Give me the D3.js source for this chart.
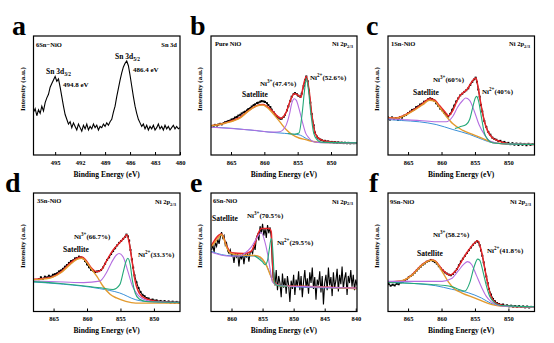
<!DOCTYPE html>
<html>
<head>
<meta charset="utf-8">
<script src="https://cdn.jsdelivr.net/npm/d3@7"></script>
<style>
  body { margin: 0; background: #fff; }
  text { font-family: "Liberation Serif", "Times New Roman", serif; font-weight: bold; fill: #000; }
</style>
</head>
<body>
<div id="fig"></div>
<script>
// tick labels
var aTicks = [495, 492, 489, 486, 483, 480];
var niTicks = [865, 860, 855, 850];
var eTicks = [860, 855, 850, 845, 840];

// a: Sn 3d of 6Sn-NiO  [binding energy, intensity %]
var aData = [[497.6,36],[497.4,39],[497.2,33],[497.0,38],[496.8,35],[496.6,41],[496.4,37],[496.2,44],[496.0,48],[495.8,51],
  [495.6,57],[495.4,60],[495.2,63],[495.0,66],[494.8,62],[494.6,64],[494.4,57],[494.2,49],[494.0,41],[493.8,34],
  [493.6,30],[493.4,26],[493.2,28],[493.0,23],[492.8,27],[492.6,24],[492.4,21],[492.2,26],[492.0,23],[491.8,20],
  [491.6,25],[491.4,22],[491.2,26],[491.0,21],[490.8,24],[490.6,22],[490.4,26],[490.2,23],[490.0,25],[489.8,21],
  [489.6,24],[489.4,23],[489.2,26],[489.0,24],[488.8,27],[488.6,25],[488.4,28],[488.2,30],[488.0,36],[487.8,41],
  [487.6,49],[487.4,56],[487.2,63],[487.0,69],[486.8,74],[486.6,77],[486.4,79],[486.2,75],[486.0,67],[485.8,58],
  [485.6,49],[485.4,41],[485.2,35],[485.0,30],[484.8,27],[484.6,24],[484.4,26],[484.2,22],[484.0,25],[483.8,21],
  [483.6,24],[483.4,22],[483.2,25],[483.0,21],[482.8,23],[482.6,26],[482.4,22],[482.2,24],[482.0,21],[481.8,25],
  [481.6,22],[481.4,24],[481.2,21],[481.0,23],[480.8,25],[480.6,22],[480.4,24],[480.2,22],[480.0,23]];

// b: pure NiO
var bData = [[867.6,24.5],[867.4,25.3],[867.1,24.8],[866.9,25.6],[866.6,26.2],[866.4,25.7],[866.1,26.8],[865.9,27.5],[865.6,27.9],[865.4,28.6],
  [865.1,29.0],[864.9,29.9],[864.6,30.4],[864.4,31.5],[864.1,32.0],[863.9,33.1],[863.6,33.8],[863.4,34.9],[863.1,35.8],[862.9,36.4],
  [862.6,37.5],[862.4,38.6],[862.1,39.4],[861.9,40.7],[861.6,41.9],[861.4,42.5],[861.1,43.6],[860.9,44.0],[860.6,44.8],[860.4,45.3],
  [860.1,45.0],[859.9,44.6],[859.6,43.5],[859.4,42.0],[859.1,40.3],[858.9,38.1],[858.6,35.9],[858.4,34.0],[858.1,32.3],[857.9,31.4],
  [857.6,30.5],[857.4,30.6],[857.1,32.0],[856.9,33.8],[856.6,37.5],[856.4,41.0],[856.1,45.5],[855.9,49.0],[855.6,51.3],[855.4,52.0],
  [855.1,51.0],[854.9,49.8],[854.6,48.9],[854.4,51.5],[854.1,58.0],[853.9,63.0],[853.7,66.0],[853.5,62.0],[853.3,54.0],[853.1,44.0],
  [852.9,34.5],[852.6,25.0],[852.4,18.8],[852.1,15.5],[851.9,14.0],[851.6,13.0],[851.4,12.6],[851.1,11.8],[850.9,11.9],[850.6,11.2],
  [850.4,11.4],[850.1,10.8],[849.9,11.0],[849.6,10.5],[849.4,10.7],[849.1,10.3],[848.9,10.6],[848.6,10.1],[848.4,10.4],[848.1,10.0],
  [847.9,10.3],[847.6,9.9],[847.4,10.2],[847.1,9.8],[846.9,10.1],[846.6,9.9],[846.3,10.0]];
var bEnv = [[868.0,24.6],[866.6,25.9],[865.6,27.4],[864.6,29.2],[863.6,31.8],[862.6,36.3],[861.7,39.8],[860.7,42.2],[860.2,42.5],[859.7,41.3],
  [858.7,36.5],[858.0,32.5],[857.5,30.8],[856.7,36.3],[856.0,47.3],[855.5,51.4],[855.0,50.5],[854.5,48.6],[854.2,56.9],[853.7,65.9],
  [853.3,54.9],[852.9,34.9],[852.4,18.4],[851.8,13.7],[850.8,11.5],[849.0,10.5],[846.1,10.2]];
var bBg = [[868.0,23.5],[865.0,22.5],[862.0,20.9],[859.0,19.1],[857.0,18.2],[855.5,17.4],[854.8,17.0],[854.3,15.8],[853.7,13.8],[853.0,12.0],
  [852.3,10.8],[851.5,10.4],[846.1,10.2]];
var bSat = [[868.0,24.6],[866.6,25.8],[865.6,27.2],[864.6,28.8],[863.6,31.2],[862.6,36.0],[861.7,39.6],[860.7,41.8],[860.2,41.9],[859.7,40.4],
  [858.7,34.9],[857.7,28.0],[856.7,21.2],[855.8,17.0],[854.8,14.3],[853.8,12.9],[852.8,11.5],[851.8,10.6],[846.1,10.2]];
var bNi3 = [[868.0,23.3],[862.0,21.0],[858.5,19.2],[857.7,19.6],[857.2,21.2],[856.7,25.3],[856.2,34.9],[855.9,43.1],[855.5,47.3],[855.2,45.9],
  [854.8,39.0],[854.3,28.0],[853.8,18.4],[853.3,14.3],[852.8,11.5],[852.0,10.6],[846.1,10.2]];
var bNi2 = [[856.5,18.0],[855.5,17.4],[854.8,18.4],[854.3,36.3],[854.0,52.7],[853.7,64.3],[853.4,55.5],[853.05,36.3],[852.6,18.4],[852.1,12.9],
  [851.5,10.8],[846.1,10.2]];

// c: 1Sn-NiO
var cData = [[868.0,31.5],[867.7,29.8],[867.4,31.6],[867.1,30.2],[866.8,31.0],[866.5,29.5],[866.2,31.8],[865.9,31.4],[865.6,33.0],[865.3,33.6],
  [865.0,35.2],[864.7,36.4],[864.4,37.9],[864.1,38.3],[863.8,40.2],[863.5,40.8],[863.2,42.4],[862.9,43.1],[862.6,44.8],[862.3,45.4],
  [862.0,46.9],[861.7,47.6],[861.4,47.0],[861.1,45.8],[860.8,43.5],[860.5,41.4],[860.2,39.0],[859.9,37.6],[859.6,35.5],[859.3,34.0],
  [859.0,32.4],[858.7,34.5],[858.4,38.0],[858.1,41.5],[857.8,45.0],[857.5,47.6],[857.2,50.1],[856.9,51.5],[856.6,53.0],[856.3,54.4],
  [856.0,56.0],[855.7,58.9],[855.4,61.5],[855.1,63.6],[854.9,65.0],[854.7,61.5],[854.5,55.0],[854.3,49.0],[854.1,42.0],[853.9,36.5],
  [853.6,28.5],[853.3,23.5],[853.0,19.3],[852.7,17.1],[852.4,14.6],[852.1,13.5],[851.8,12.8],[851.5,11.6],[851.2,11.9],[850.9,10.5],
  [850.6,11.0],[850.3,9.7],[850.0,10.2],[849.7,9.1],[849.4,9.9],[849.1,8.7],[848.8,9.6],[848.5,8.4],[848.2,9.5],[847.9,8.6],
  [847.6,9.3],[847.3,8.2],[847.0,9.4],[846.7,8.5],[846.4,9.1]];
var cEnv = [[868.0,31.2],[866.8,31.0],[865.7,33.0],[864.3,37.4],[862.8,43.2],[861.8,47.2],[861.0,46.0],[860.3,41.5],[859.3,35.0],[859.0,32.8],
  [858.3,37.5],[857.8,44.0],[857.3,49.5],[856.8,52.1],[856.1,55.7],[855.6,60.4],[855.1,64.1],[854.85,64.8],[854.6,59.1],[854.1,42.3],
  [853.6,28.4],[853.1,20.1],[852.4,14.5],[851.4,11.7],[849.9,9.5],[846.1,8.9]];
var cBg = [[868.0,29.8],[866.0,29.0],[863.3,27.9],[860.8,25.6],[858.3,21.4],[855.8,17.3],[853.9,13.1],[852.4,10.3],[850.9,9.5],[846.1,8.9]];
var cSat = [[868.0,31.0],[866.8,31.0],[865.7,32.6],[864.3,36.8],[862.8,42.3],[861.8,46.0],[861.0,45.1],[860.3,40.1],[859.3,32.6],[858.3,26.2],
  [856.8,20.6],[855.35,17.3],[853.9,13.9],[852.4,10.6],[850.9,9.5],[846.1,8.9]];
var cNi3 = [[868.0,30.4],[866.0,29.8],[863.3,29.0],[860.8,27.9],[859.3,27.9],[858.3,32.6],[857.6,40.1],[856.8,46.0],[856.4,47.9],[855.8,46.0],
  [855.1,36.8],[854.4,25.6],[853.6,17.3],[852.9,12.3],[851.9,10.3],[850.9,9.5],[846.1,8.9]];
var cNi2 = [[858.0,22.3],[857.3,23.6],[856.3,25.6],[855.8,29.8],[855.35,39.6],[854.95,47.9],[854.75,49.3],[854.45,45.1],[854.1,34.0],[853.6,18.7],
  [853.1,13.1],[852.4,10.3],[850.9,9.5],[846.1,8.9]];

// d: 3Sn-NiO
var dData = [[867.2,27.3],[866.9,28.9],[866.6,27.6],[866.3,29.4],[866.0,28.7],[865.7,30.2],[865.4,29.4],[865.1,31.0],[864.8,31.5],[864.5,32.2],
  [864.2,33.8],[863.9,34.6],[863.6,36.0],[863.3,37.8],[863.0,39.2],[862.7,41.0],[862.4,42.5],[862.1,43.1],[861.8,44.8],[861.5,45.2],
  [861.2,46.3],[860.9,45.6],[860.6,45.0],[860.3,42.6],[860.0,39.8],[859.7,37.4],[859.4,35.2],[859.1,34.5],[858.8,33.3],[858.5,33.8],
  [858.2,34.1],[857.9,35.0],[857.6,37.2],[857.3,40.3],[857.0,43.5],[856.7,45.7],[856.4,48.5],[856.1,51.0],[855.8,53.4],[855.5,55.8],
  [855.2,57.9],[854.9,59.5],[854.6,61.3],[854.3,63.0],[854.1,64.9],[853.9,63.5],[853.7,59.8],[853.5,52.0],[853.3,44.0],[853.1,37.0],
  [852.9,30.5],[852.6,24.6],[852.3,19.8],[852.0,16.5],[851.7,14.1],[851.4,12.9],[851.1,11.4],[850.8,11.0],[850.5,9.8],[850.2,10.1],
  [849.9,9.2],[849.6,9.4],[849.3,8.4],[849.0,8.9],[848.7,8.2],[848.4,8.8],[848.1,7.9],[847.8,8.5],[847.5,7.6],[847.2,8.3],
  [846.9,7.5],[846.6,8.1],[846.3,7.4]];
var dEnv = [[868.0,27.2],[865.4,28.8],[863.9,33.5],[862.5,40.8],[861.5,45.0],[860.75,46.0],[860.0,42.0],[859.3,36.5],[858.55,33.5],[857.8,35.5],
  [857.1,42.6],[856.1,51.9],[855.1,58.2],[854.4,62.5],[854.06,64.8],[853.7,58.2],[853.3,44.0],[852.8,25.6],[852.2,15.6],[851.2,10.8],
  [849.3,8.5],[846.1,7.5]];
var dBg = [[868.0,24.9],[863.5,23.0],[858.1,19.3],[855.1,15.6],[852.7,9.9],[850.25,8.0],[846.1,7.4]];
var dSat = [[868.0,26.8],[866.3,27.5],[865.4,28.4],[863.9,32.7],[862.5,39.8],[861.5,44.0],[860.75,44.9],[860.0,41.2],[859.3,35.5],[858.55,29.8],
  [857.6,21.3],[856.6,14.8],[855.6,11.4],[854.2,8.5],[852.7,7.1],[846.1,7.1]];
var dNi3 = [[868.0,25.8],[863.5,24.9],[860.5,24.4],[858.1,25.6],[857.1,32.7],[856.35,41.2],[855.6,47.7],[855.2,48.9],[854.6,46.0],[853.9,34.1],
  [853.2,21.3],[852.45,14.2],[851.7,10.8],[850.25,8.5],[846.1,7.7]];
var dNi2 = [[868.0,25.2],[864.0,23.6],[861.0,22.0],[858.0,20.0],[856.1,18.6],[855.1,22.7],[854.55,34.1],[854.15,42.6],[853.9,44.9],[853.55,39.8],
  [853.2,25.6],[852.8,15.6],[852.2,10.5],[851.2,8.5],[846.1,7.8]];

// e: 6Sn-NiO
var eData = [[863.2,52],[863.0,56],[862.8,50],[862.6,58],[862.4,55],[862.2,61],[862.0,57],[861.8,63],[861.6,67],[861.4,62],
  [861.2,64],[861.0,56],[860.8,58],[860.6,51],[860.4,49],[860.2,52],[860.0,47],[859.8,48],[859.6,41],[859.4,49],
  [859.2,46],[859.0,49],[858.8,38],[858.6,48],[858.4,44],[858.2,49],[858.0,40],[857.8,48],[857.6,46],[857.4,49],
  [857.2,42],[857.0,50],[856.8,51],[856.6,49],[856.4,56],[856.2,52],[856.0,62],[855.8,65],[855.6,60],[855.4,72],
  [855.2,66],[855.0,74],[854.8,64],[854.6,70],[854.4,62],[854.2,73],[854.0,66],[853.8,71],[853.6,63],[853.5,50],
  [853.4,38],[853.3,28],[853.2,33],[853.0,22],[852.8,35],[852.6,18],[852.4,30],[852.2,24],[852.0,12],[851.8,32],
  [851.6,20],[851.4,28],[851.2,15],[851.0,30],[850.8,22],[850.6,8],[850.4,26],[850.2,19],[850.0,31],[849.8,14],
  [849.6,27],[849.4,21],[849.2,34],[849.0,18],[848.8,30],[848.6,12],[848.4,25],[848.2,35],[848.0,20],[847.8,28],
  [847.6,15],[847.4,33],[847.2,24],[847.0,37],[846.8,19],[846.6,29],[846.4,10],[846.2,27],[846.0,22],[845.8,34],
  [845.6,16],[845.4,30],[845.2,6],[845.0,24],[844.8,31],[844.6,18],[844.4,37],[844.2,22],[844.0,29],[843.8,13],
  [843.6,33],[843.4,20],[843.2,26],[843.0,36],[842.8,17],[842.6,31],[842.4,23],[842.2,38],[842.0,19],[841.8,28],
  [841.6,33],[841.4,14],[841.2,30],[841.0,24],[840.8,35],[840.6,21],[840.4,31],[840.2,18],[840.0,27],[839.8,22]];
var eEnv = [[863.3,55.0],[861.6,65.5],[860.8,55.5],[860.0,49.5],[858.0,48.9],[856.8,51.0],[856.2,58.0],[855.8,64.4],[855.2,70.0],[854.4,70.0],
  [853.9,70.0],[853.6,67.2],[853.4,41.8],[853.1,24.9],[852.6,22.5],[851.5,21.5],[848.0,21.2],[839.8,19.6]];
var eBg = [[863.3,50.8],[861.6,48.0],[860.0,47.0],[856.3,46.8],[855.5,45.5],[855.0,43.5],[854.4,39.5],[853.9,33.0],[853.4,26.3],[853.1,23.5],
  [852.6,22.0],[851.5,21.3],[839.8,19.4]];
var eSat = [[863.3,54.5],[862.8,57.5],[862.2,61.5],[861.6,65.0],[861.2,61.0],[860.8,54.5],[860.0,48.9],[858.5,47.5],[856.3,47.3],[855.8,46.9],
  [855.0,44.1],[854.4,39.0],[853.9,32.8],[853.4,26.3],[853.1,23.4],[852.6,22.0],[851.5,21.2],[848.3,21.2],[844.0,20.2],[839.8,19.2]];
var eNi3 = [[863.3,50.3],[861.6,47.5],[860.0,46.6],[858.5,47.0],[857.9,48.9],[856.8,54.5],[855.8,63.0],[855.2,66.7],[854.7,60.2],[854.2,48.9],
  [853.75,34.7],[853.4,24.9],[852.8,22.6],[851.5,21.5],[848.0,21.0],[839.8,19.6]];
var eNi2 = [[856.3,47.0],[855.0,41.8],[854.6,39.5],[854.2,43.2],[853.9,53.1],[853.6,61.6],[853.4,55.0],[853.2,36.2],[853.1,24.3],[852.6,22.0],
  [851.0,21.3]];

// f: 9Sn-NiO
var fData = [[868.0,24.0],[867.9,23.1],[867.6,21.8],[867.3,22.6],[867.0,22.0],[866.7,23.4],[866.4,23.0],[866.1,24.6],[865.8,25.1],[865.5,26.4],
  [865.2,27.3],[864.9,28.9],[864.6,30.0],[864.3,31.2],[864.0,32.8],[863.7,34.6],[863.4,36.4],[863.1,37.9],[862.8,39.5],[862.5,40.6],
  [862.2,42.0],[861.9,42.6],[861.6,43.5],[861.3,42.8],[861.0,41.7],[860.7,40.4],[860.4,38.2],[860.1,36.3],[859.8,34.7],[859.5,33.0],
  [859.2,32.0],[858.9,31.1],[858.6,30.6],[858.3,31.6],[858.0,33.5],[857.7,35.8],[857.4,39.0],[857.1,42.2],[856.8,44.6],[856.5,47.0],
  [856.2,49.4],[855.9,51.8],[855.6,54.0],[855.3,56.3],[855.0,58.0],[854.7,59.3],[854.5,58.6],[854.3,56.0],[854.1,51.5],[853.9,47.0],
  [853.7,41.5],[853.5,35.4],[853.3,29.5],[853.1,24.0],[852.9,19.0],[852.6,14.3],[852.3,10.6],[852.0,8.6],[851.7,7.1],[851.4,6.3],
  [851.1,5.6],[850.8,5.9],[850.5,4.8],[850.2,5.2],[849.9,4.4],[849.6,4.9],[849.3,4.1],[849.0,4.6],[848.7,3.9],[848.4,4.5],
  [848.1,3.8],[847.8,4.3],[847.5,3.5],[847.2,4.2],[846.9,3.4],[846.6,3.9]];
var fEnv = [[868.0,24.9],[865.8,26.0],[864.4,31.0],[862.9,39.5],[861.9,43.0],[861.4,43.5],[860.9,42.5],[859.9,35.5],[858.7,30.7],[857.97,33.7],
  [856.5,47.2],[855.1,57.6],[854.6,59.7],[854.0,50.1],[853.3,29.3],[852.6,12.8],[851.6,6.3],[850.1,4.5],[846.1,3.7]];
var fBg = [[868.0,24.8],[865.5,24.2],[863.4,23.3],[860.9,21.8],[858.5,18.8],[856.0,15.8],[854.0,11.3],[852.6,6.9],[851.1,4.8],[846.1,3.9]];
var fSat = [[868.0,24.8],[865.8,26.3],[864.4,30.7],[862.9,39.1],[861.9,42.7],[861.4,43.3],[860.9,42.1],[859.9,33.7],[858.95,24.8],[858.0,18.8],
  [857.0,15.8],[855.0,11.3],[853.05,6.9],[851.1,4.5],[846.1,3.9]];
var fNi3 = [[868.0,25.4],[865.0,25.4],[859.9,25.4],[858.5,27.8],[857.5,34.3],[856.7,39.7],[856.1,42.1],[855.5,39.7],[854.8,30.7],[854.0,20.3],
  [853.3,12.8],[852.6,8.4],[851.6,5.4],[850.0,4.2],[846.1,3.9]];
var fNi2 = [[868.0,24.5],[865.0,23.8],[861.5,22.8],[858.5,21.0],[857.5,18.8],[856.5,17.3],[855.75,24.8],[855.1,38.2],[854.6,44.2],[854.3,43.3],
  [853.8,33.7],[853.3,21.8],[852.8,12.8],[852.1,7.5],[851.1,5.1],[846.1,4.0]];

var RED = "#e8262a", PURPLE = "#b46ee0", GREEN = "#23a878", GOLD = "#e39a2e", BLUE = "#3a90d8";

var svg = d3.select("#fig").append("svg")
  .attr("width", 554).attr("height", 343);

var cols = [[33.5, 180], [211, 357], [388, 534.5]];
var rows = [[36, 155], [193, 311.5]];
var niDom = [868.0, 846.1];

function niCurves(env, bg, sat, ni3, ni2) {
  return [[env, RED, 1.5], [bg, BLUE, 1], [sat, GOLD, 1.4], [ni3, PURPLE, 1.1], [ni2, GREEN, 1.1]];
}

var panels = [
  {c: 0, r: 0, letter: "a", lx: 12, dom: [497.6, 480], ticks: aTicks, data: aData, dots: false, curves: [],
   texts: [
     {x: 36, y: 47, parts: [["6Sn−NiO"]], size: 6.5},
     {x: 177, y: 47, parts: [["Sn 3d"]], size: 6.5, anchor: "end"},
     {x: 46, y: 74, parts: [["Sn 3d"], ["3/2", "sub"]], size: 7.5},
     {x: 63, y: 87, parts: [["494.8 eV"]], size: 7},
     {x: 115, y: 59, parts: [["Sn 3d"], ["5/2", "sub"]], size: 7.5},
     {x: 133, y: 72, parts: [["486.4 eV"]], size: 7}
   ]},
  {c: 1, r: 0, letter: "b", lx: 190, dom: niDom, ticks: niTicks, data: bData, dots: true,
   curves: niCurves(bEnv, bBg, bSat, bNi3, bNi2),
   texts: [
     {x: 215, y: 46, parts: [["Pure NiO"]], size: 6.5},
     {x: 353, y: 46, parts: [["Ni 2p"], ["2/3", "sub"]], size: 6.5, anchor: "end"},
     {x: 242, y: 96.5, parts: [["Satellite"]], size: 7.5},
     {x: 260, y: 85.5, parts: [["Ni"], ["3+", "sup"], ["(47.4%)"]], size: 7},
     {x: 310, y: 79.5, parts: [["Ni"], ["2+", "sup"], ["(52.6%)"]], size: 7}
   ]},
  {c: 2, r: 0, letter: "c", lx: 366, dom: niDom, ticks: niTicks, data: cData, dots: true,
   curves: niCurves(cEnv, cBg, cSat, cNi3, cNi2),
   texts: [
     {x: 391, y: 46, parts: [["1Sn-NiO"]], size: 6.5},
     {x: 530, y: 46, parts: [["Ni 2p"], ["2/3", "sub"]], size: 6.5, anchor: "end"},
     {x: 413, y: 94.5, parts: [["Satellite"]], size: 7.5},
     {x: 433, y: 81.5, parts: [["Ni"], ["3+", "sup"], ["(60%)"]], size: 7},
     {x: 482, y: 93.5, parts: [["Ni"], ["2+", "sup"], ["(40%)"]], size: 7}
   ]},
  {c: 0, r: 1, letter: "d", lx: 5, dom: niDom, ticks: niTicks, data: dData, dots: true,
   curves: niCurves(dEnv, dBg, dSat, dNi3, dNi2),
   texts: [
     {x: 37, y: 203, parts: [["3Sn-NiO"]], size: 6.5},
     {x: 176, y: 204, parts: [["Ni 2p"], ["2/3", "sub"]], size: 6.5, anchor: "end"},
     {x: 63, y: 251.5, parts: [["Satellite"]], size: 7.5},
     {x: 74, y: 238.5, parts: [["Ni"], ["3+", "sup"], ["(66.7%)"]], size: 7},
     {x: 138, y: 256.5, parts: [["Ni"], ["2+", "sup"], ["(33.3%)"]], size: 7}
   ]},
  {c: 1, r: 1, letter: "e", lx: 190, dom: [863.3, 839.8], ticks: eTicks, data: eData, dots: false,
   curves: niCurves(eEnv, eBg, eSat, eNi3, eNi2),
   texts: [
     {x: 213, y: 203, parts: [["6Sn-NiO"]], size: 6.5},
     {x: 353, y: 203.5, parts: [["Ni 2p"], ["2/3", "sub"]], size: 6.5, anchor: "end"},
     {x: 212, y: 220.5, parts: [["Satellite"]], size: 7.5},
     {x: 247, y: 217.5, parts: [["Ni"], ["3+", "sup"], ["(70.5%)"]], size: 7},
     {x: 277, y: 244.5, parts: [["Ni"], ["2+", "sup"], ["(29.5%)"]], size: 7}
   ]},
  {c: 2, r: 1, letter: "f", lx: 369, dom: niDom, ticks: niTicks, data: fData, dots: true,
   curves: niCurves(fEnv, fBg, fSat, fNi3, fNi2),
   texts: [
     {x: 390, y: 204, parts: [["9Sn-NiO"]], size: 6.5},
     {x: 531, y: 204, parts: [["Ni 2p"], ["2/3", "sub"]], size: 6.5, anchor: "end"},
     {x: 417, y: 256, parts: [["Satellite"]], size: 7.5},
     {x: 433, y: 236.5, parts: [["Ni"], ["3+", "sup"], ["(58.2%)"]], size: 7},
     {x: 487, y: 253, parts: [["Ni"], ["2+", "sup"], ["(41.8%)"]], size: 7}
   ]}
];

// text with sub / superscripts
function richText(g, t) {
  var size = t.size;
  var el = g.append("text")
    .attr("x", t.x).attr("y", t.y)
    .attr("text-anchor", t.anchor || "start")
    .attr("font-size", size);
  var shift = 0;
  t.parts.forEach(function(p) {
    var s = p[1] === "sup" ? -0.38 * size : p[1] === "sub" ? 0.28 * size : 0;
    el.append("tspan")
      .attr("dy", s - shift)
      .attr("font-size", p[1] ? size * 0.72 : size)
      .text(p[0]);
    shift = s;
  });
}

panels.forEach(function(p, i) {
  var x0 = cols[p.c][0], x1 = cols[p.c][1];
  var y0 = rows[p.r][0], y1 = rows[p.r][1];

  var x = d3.scaleLinear().domain(p.dom).range([x0, x1]);
  var y = d3.scaleLinear().domain([0, 100]).range([y1, y0]);

  var g = svg.append("g");

  g.append("clipPath").attr("id", "clip" + i)
    .append("rect").attr("x", x0).attr("y", y0).attr("width", x1 - x0).attr("height", y1 - y0);

  var plot = g.append("g").attr("clip-path", "url(#clip" + i + ")");

  var raw = d3.line().x(function(d) { return x(d[0]); }).y(function(d) { return y(d[1]); });
  var smooth = d3.line().x(function(d) { return x(d[0]); }).y(function(d) { return y(d[1]); })
    .curve(d3.curveMonotoneX);

  // measured spectrum
  plot.append("path").datum(p.data)
    .attr("d", raw).attr("fill", "none").attr("stroke", "#000")
    .attr("stroke-width", p.dots ? 1 : 1.1);
  if (p.dots) {
    plot.selectAll(".pt").data(p.data).enter().append("rect")
      .attr("x", function(d) { return x(d[0]) - 1; })
      .attr("y", function(d) { return y(d[1]) - 1; })
      .attr("width", 2).attr("height", 2).attr("fill", "#000");
  }

  // fit curves
  p.curves.forEach(function(cv) {
    plot.append("path").datum(cv[0])
      .attr("d", smooth).attr("fill", "none")
      .attr("stroke", cv[1]).attr("stroke-width", cv[2]);
  });

  // frame
  g.append("rect").attr("x", x0).attr("y", y0).attr("width", x1 - x0).attr("height", y1 - y0)
    .attr("fill", "none").attr("stroke", "#000").attr("stroke-width", 1.2);

  // bottom axis
  var ax = g.append("g").attr("transform", "translate(0," + y1 + ")")
    .call(d3.axisBottom(x).tickValues(p.ticks).tickSize(-3).tickPadding(5).tickFormat(d3.format("d")));
  ax.select(".domain").remove();
  ax.selectAll("line").attr("stroke-width", 1);
  ax.selectAll("text").attr("font-size", 6.5).attr("font-family", "Liberation Serif, serif")
    .attr("font-weight", "bold").attr("fill", "#000");

  g.append("text")
    .attr("x", (x0 + x1) / 2).attr("y", y1 + 21.5)
    .attr("text-anchor", "middle").attr("font-size", 7.5)
    .text("Binding Energy (eV)");

  g.append("text")
    .attr("transform", "translate(" + (x0 - 9) + "," + (y0 + 53) + ") rotate(-90)")
    .attr("text-anchor", "middle").attr("font-size", 7)
    .text("Intensity (a.u.)");

  g.append("text")
    .attr("x", p.lx).attr("y", y0 - 1)
    .attr("font-size", 28)
    .text(p.letter);

  p.texts.forEach(function(t) { richText(g, t); });
});
</script>
</body>
</html>
